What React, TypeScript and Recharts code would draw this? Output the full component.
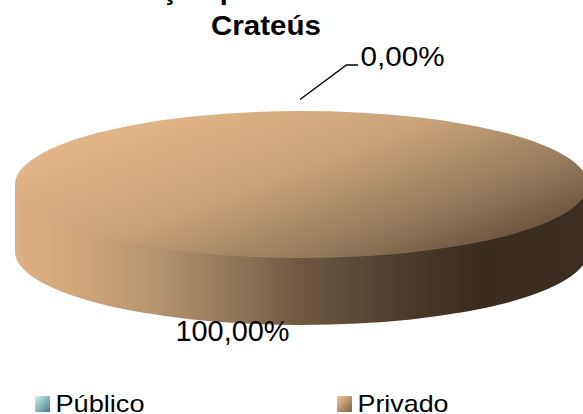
import { PieChart, Pie, Legend } from 'recharts';

const categories = ['Público', 'Privado'];
const values = [0, 100];
const percentLabels = ['0,00%', '100,00%'];
const fills = ['url(#publicoTop)', 'url(#privadoTop)'];
const swatches = ['url(#publicoSwatch)', 'url(#privadoSwatch)'];

const data = categories.map((name, i) => ({
  name,
  value: values[i],
  fill: fills[i],
}));

const FONT = '"Liberation Sans", Arial, sans-serif';
const TILT = 0.2565; // ellipse height / width of the disc
const DEPTH = 67;

function DiscSlice(props: any) {
  const { cx, cy, outerRadius, startAngle, endAngle, fill } = props;
  if (Math.abs(endAngle - startAngle) < 0.01) return null;
  const rx = outerRadius;
  const ry = outerRadius * TILT;
  const left = cx - rx;
  const right = cx + rx;
  const side = `M${left} ${cy}L${left} ${cy + DEPTH}A${rx} ${ry} 0 0 0 ${right} ${cy + DEPTH}L${right} ${cy}Z`;
  const top = `M${left} ${cy}A${rx} ${ry} 0 0 1 ${right} ${cy}A${rx} ${ry} 0 0 1 ${left} ${cy}Z`;
  return (
    <g>
      <path d={side} fill="url(#privadoSide)" />
      <path d={top} fill={fill} />
    </g>
  );
}

function SliceLabel(props: any) {
  const { cx, cy, outerRadius, index } = props;
  const ry = outerRadius * TILT;
  if (index === 0) {
    const topY = cy - ry;
    return (
      <g>
        <polyline
          points={`${cx - 1.5},${topY - 11.5} ${cx + 45},${topY - 46} ${cx + 56.5},${topY - 46}`}
          fill="none"
          stroke="#000"
          strokeWidth={1.4}
        />
        <text x={cx + 59} y={topY - 45} fontFamily={FONT} fontSize={28} fill="#000" textLength={84} lengthAdjust="spacingAndGlyphs">
          {percentLabels[index]}
        </text>
      </g>
    );
  }
  return (
    <text x={cx - 126} y={cy + ry + DEPTH + 16} fontFamily={FONT} fontSize={29} fill="#000" textLength={114} lengthAdjust="spacingAndGlyphs">
      {percentLabels[index]}
    </text>
  );
}

function ChartLegend({ payload }: any) {
  const iconX = [35, 337];
  const textX = [55.5, 357.5];
  const textW = [89, 91];
  return (
    <svg width={583} height={34} style={{ display: 'block' }}>
      {(payload ?? []).map((entry: any, i: number) => (
        <g key={entry.value}>
          <rect x={iconX[i]} y={16} width={15} height={16} fill={swatches[i]} />
          <text x={textX[i]} y={32} fontFamily={FONT} fontSize={24} fill="#000" textLength={textW[i]} lengthAdjust="spacingAndGlyphs">
            {entry.value}
          </text>
        </g>
      ))}
    </svg>
  );
}

export default function App() {
  return (
    <div style={{ position: 'absolute', left: 0, top: 0, width: 583, height: 414, overflow: 'hidden', background: '#fff' }}>
      <svg width={0} height={0} style={{ position: 'absolute' }}>
        <defs>
          <linearGradient id="publicoSwatch" x1="0" y1="0" x2="1" y2="1">
            <stop offset="0%" stopColor="#c8f5f2" />
            <stop offset="100%" stopColor="#4d7a80" />
          </linearGradient>
          <linearGradient id="privadoSwatch" x1="0" y1="0" x2="1" y2="1">
            <stop offset="0%" stopColor="#f4c89a" />
            <stop offset="100%" stopColor="#7d6248" />
          </linearGradient>
        </defs>
      </svg>
      <PieChart width={583} height={414} margin={{ top: 0, right: 0, bottom: 0, left: 0 }}>
        <defs>
          <linearGradient id="publicoTop" x1="0" y1="0" x2="1" y2="1">
            <stop offset="0%" stopColor="#c8f5f2" />
            <stop offset="100%" stopColor="#4d7a80" />
          </linearGradient>
          <linearGradient id="privadoTop" x1="0" y1="0.15" x2="1" y2="0.85">
            <stop offset="0%" stopColor="#e8bb8c" />
            <stop offset="45%" stopColor="#c9a27a" />
            <stop offset="75%" stopColor="#927859" />
            <stop offset="100%" stopColor="#58442f" />
          </linearGradient>
          <linearGradient id="privadoSide" x1="0" y1="0" x2="1" y2="0">
            <stop offset="0%" stopColor="#dcb084" />
            <stop offset="13%" stopColor="#cda479" />
            <stop offset="25%" stopColor="#b4936f" />
            <stop offset="41%" stopColor="#8a6f52" />
            <stop offset="50%" stopColor="#6e5840" />
            <stop offset="67%" stopColor="#4e3d2d" />
            <stop offset="81%" stopColor="#3a2b1f" />
            <stop offset="100%" stopColor="#3c2e22" />
          </linearGradient>
        </defs>
        <text x={44} y={-1} fontFamily={FONT} fontSize={29} fontWeight="bold" fill="#000">
          Distribuição por setor em
        </text>
        <text x={211} y={35} fontFamily={FONT} fontSize={28} fontWeight="bold" fill="#000" textLength={110} lengthAdjust="spacingAndGlyphs">
          Crateús
        </text>
        <Pie
          data={data}
          dataKey="value"
          nameKey="name"
          cx={301.5}
          cy={184.5}
          innerRadius={0}
          outerRadius={286.5}
          startAngle={90}
          endAngle={-270}
          stroke="none"
          labelLine={false}
          label={SliceLabel}
          shape={DiscSlice}
          isAnimationActive={false}
        />
        <Legend
          content={ChartLegend}
          itemSorter={null}
          verticalAlign="bottom"
          wrapperStyle={{ left: 0, top: 380, width: 583, height: 34 }}
        />
      </PieChart>
    </div>
  );
}
